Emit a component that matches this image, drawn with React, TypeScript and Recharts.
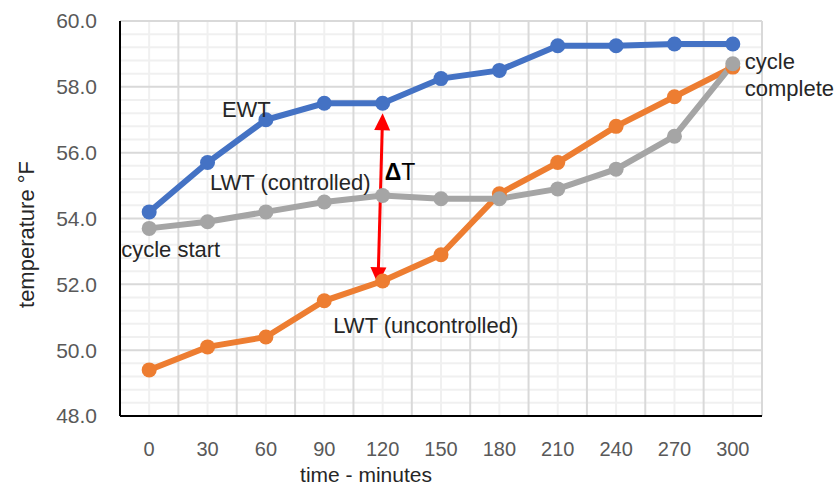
import React from "react";
import {
  LineChart,
  Line,
  XAxis,
  YAxis,
  ReferenceArea,
  ReferenceDot,
  ReferenceLine,
} from "recharts";

// time in minutes
const minutes = [0, 30, 60, 90, 120, 150, 180, 210, 240, 270, 300];
const ewt = [54.2, 55.7, 57.0, 57.5, 57.5, 58.25, 58.5, 59.25, 59.25, 59.3, 59.3];
const lwtControlled = [53.7, 53.9, 54.2, 54.5, 54.7, 54.6, 54.6, 54.9, 55.5, 56.5, 58.7];
const lwtUncontrolled = [49.4, 50.1, 50.4, 51.5, 52.1, 52.9, 54.75, 55.7, 56.8, 57.7, 58.6];

const xDomain: [number, number] = [-15, 315];
const yDomain: [number, number] = [48, 60];
const yTicks = [48, 50, 52, 54, 56, 58, 60];
const yMinorTicks = [
  48.4, 48.8, 49.2, 49.6, 50.4, 50.8, 51.2, 51.6, 52.4, 52.8, 53.2, 53.6,
  54.4, 54.8, 55.2, 55.6, 56.4, 56.8, 57.2, 57.6, 58.4, 58.8, 59.2, 59.6,
];
const xBoundaryTicks = [-15, 15, 45, 75, 105, 135, 165, 195, 225, 255, 285, 315];

// delta T arrow, from EWT down to uncontrolled LWT
const arrowTop = { minute: 120, temp: 57.2 };
const arrowBottom = { minute: 117.6, temp: 52.0 };

const notes = [
  { lines: ["EWT"], minute: 60, temp: 57.08, dx: -44 },
  { lines: ["LWT (controlled)"], minute: 60, temp: 54.87, dx: -56 },
  { lines: ["cycle start"], minute: 0, temp: 52.83, dx: -28 },
  { lines: ["LWT (uncontrolled)"], minute: 90, temp: 50.52, dx: 9 },
  { lines: ["cycle", "complete"], minute: 300, temp: 58.55, dx: 12 },
];

const rows = minutes.map((m, i) => ({
  minute: m,
  ewt: ewt[i],
  controlled: lwtControlled[i],
  uncontrolled: lwtUncontrolled[i],
}));

const FONT = "'Liberation Sans', Arial, sans-serif";
const TEXT = "#262626";

// grid painted inside the plot rectangle that the chart hands to the ReferenceArea
function GridShape(props: any) {
  const { x, y, width, height } = props;
  if ([x, y, width, height].some((v) => typeof v !== "number")) return null;
  const px = (m: number) => x + ((m - xDomain[0]) / (xDomain[1] - xDomain[0])) * width;
  const py = (t: number) => y + height - ((t - yDomain[0]) / (yDomain[1] - yDomain[0])) * height;
  return (
    <g>
      <rect x={x} y={y} width={width} height={height} fill="#fff" />
      {yMinorTicks.map((t) => (
        <line key={"hm" + t} x1={x} x2={x + width} y1={py(t)} y2={py(t)} stroke="#f0f0f0" strokeWidth={2} />
      ))}
      {minutes.map((m) => (
        <line key={"vm" + m} x1={px(m)} x2={px(m)} y1={y} y2={y + height} stroke="#f0f0f0" strokeWidth={2} />
      ))}
      {yTicks.map((t) => (
        <line key={"h" + t} x1={x} x2={x + width} y1={py(t)} y2={py(t)} stroke="#d9d9d9" strokeWidth={2} />
      ))}
      {xBoundaryTicks.map((m) => (
        <line key={"v" + m} x1={px(m)} x2={px(m)} y1={y} y2={y + height} stroke="#d9d9d9" strokeWidth={2} />
      ))}
    </g>
  );
}

function DeltaArrow(props: any) {
  const { x1, y1, x2, y2 } = props;
  if ([x1, y1, x2, y2].some((v) => typeof v !== "number")) return null;
  const len = Math.hypot(x2 - x1, y2 - y1);
  const ux = (x2 - x1) / len;
  const uy = (y2 - y1) / len;
  const hl = 17;
  const hw = 8;
  const head = (tx: number, ty: number, dx: number, dy: number) => {
    const bx = tx - dx * hl;
    const by = ty - dy * hl;
    return `${tx},${ty} ${bx - dy * hw},${by + dx * hw} ${bx + dy * hw},${by - dx * hw}`;
  };
  return (
    <g>
      <line
        x1={x1 + ux * 10}
        y1={y1 + uy * 10}
        x2={x2 - ux * 10}
        y2={y2 - uy * 10}
        stroke="#ff0000"
        strokeWidth={3}
      />
      <polygon points={head(x1, y1, -ux, -uy)} fill="#ff0000" />
      <polygon points={head(x2, y2, ux, uy)} fill="#ff0000" />
    </g>
  );
}

function NoteText({ cx, cy, lines, dx }: any) {
  if (typeof cx !== "number" || typeof cy !== "number") return null;
  return (
    <text x={cx + dx} y={cy} fill={TEXT} fontSize={22} fontFamily={FONT}>
      {lines.map((l: string, i: number) => (
        <tspan key={l} x={cx + dx} dy={i === 0 ? 0 : 27}>
          {l}
        </tspan>
      ))}
    </text>
  );
}

export default function App() {
  return (
    <div
      style={{
        position: "absolute",
        left: 0,
        top: 0,
        width: 839,
        height: 485,
        background: "#fff",
        fontFamily: FONT,
      }}
    >
      <LineChart
        width={839}
        height={485}
        data={rows}
        margin={{ top: 21, right: 77, bottom: 0, left: 0 }}
      >
        <ReferenceArea
          x1={xDomain[0]}
          x2={xDomain[1]}
          y1={yDomain[0]}
          y2={yDomain[1]}
          shape={GridShape}
        />
        <XAxis
          dataKey="minute"
          type="number"
          domain={xDomain}
          ticks={minutes}
          interval={0}
          height={69}
          tickSize={0}
          tickMargin={26}
          axisLine={{ stroke: "#000", strokeWidth: 2 }}
          tickLine={false}
          tick={{ fill: "#595959", fontSize: 20, fontFamily: FONT }}
          label={{
            content: ({ viewBox }: any) =>
              viewBox ? (
                <text
                  x={viewBox.x + 246}
                  y={viewBox.y + 66}
                  textAnchor="middle"
                  fill={TEXT}
                  fontSize={21}
                  fontFamily={FONT}
                >
                  time - minutes
                </text>
              ) : null,
          }}
        />
        <YAxis
          domain={yDomain}
          ticks={yTicks}
          interval={0}
          width={120}
          tickSize={0}
          tickMargin={23}
          tickFormatter={(v: number) => v.toFixed(1)}
          axisLine={{ stroke: "#000", strokeWidth: 2 }}
          tickLine={false}
          tick={{ fill: "#595959", fontSize: 21, fontFamily: FONT }}
          label={{
            content: ({ viewBox }: any) => {
              if (!viewBox) return null;
              const cx = viewBox.x + 26;
              const cy = viewBox.y + viewBox.height / 2 + 16;
              return (
                <text
                  x={cx}
                  y={cy}
                  transform={`rotate(-90, ${cx}, ${cy})`}
                  textAnchor="middle"
                  dominantBaseline="central"
                  fill={TEXT}
                  fontSize={22}
                  fontFamily={FONT}
                >
                  temperature °F
                </text>
              );
            },
          }}
        />
        <ReferenceLine
          segment={[
            { x: arrowTop.minute, y: arrowTop.temp },
            { x: arrowBottom.minute, y: arrowBottom.temp },
          ]}
          shape={DeltaArrow}
        />
        <Line
          dataKey="ewt"
          stroke="#4472c4"
          strokeWidth={6}
          dot={{ r: 7.5, fill: "#4472c4", stroke: "none" }}
          activeDot={false}
          isAnimationActive={false}
        />
        <Line
          dataKey="uncontrolled"
          stroke="#ed7d31"
          strokeWidth={6}
          dot={{ r: 7.5, fill: "#ed7d31", stroke: "none" }}
          activeDot={false}
          isAnimationActive={false}
        />
        <Line
          dataKey="controlled"
          stroke="#a5a5a5"
          strokeWidth={6}
          dot={{ r: 7.5, fill: "#a5a5a5", stroke: "none" }}
          activeDot={false}
          isAnimationActive={false}
        />
        {notes.map((n) => (
          <ReferenceDot
            key={n.lines.join(" ")}
            x={n.minute}
            y={n.temp}
            r={1}
            shape={(p: any) => <NoteText cx={p.cx} cy={p.cy} lines={n.lines} dx={n.dx} />}
          />
        ))}
        <ReferenceDot
          x={arrowTop.minute}
          y={55.17}
          r={1}
          shape={(p: any) =>
            typeof p.cx === "number" ? (
              <text x={p.cx + 2} y={p.cy} fill="#000" fontSize={23} fontFamily={FONT}>
                <tspan fontWeight="bold">Δ</tspan>T
              </text>
            ) : null
          }
        />
      </LineChart>
    </div>
  );
}
